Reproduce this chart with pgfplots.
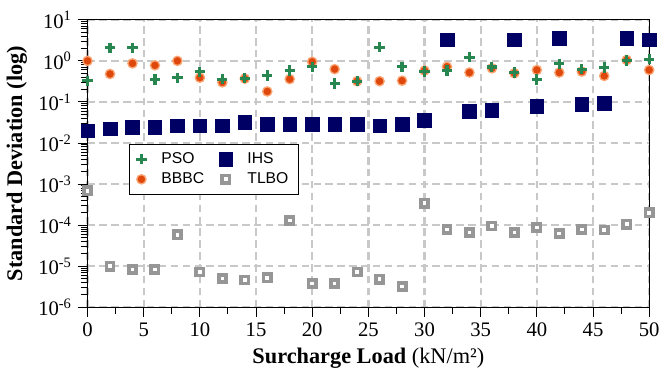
\documentclass[border=0pt]{standalone}
\usepackage{fontspec}
\setmainfont{Liberation Serif}
\setsansfont{Liberation Sans}
\usepackage{pgfplots}
\pgfplotsset{compat=1.18}
\definecolor{psogreen}{RGB}{40,135,80}
\definecolor{bbbcorange}{RGB}{222,72,12}
\definecolor{bbbchalo}{RGB}{250,165,115}
\definecolor{ihsblue}{RGB}{0,0,100}
\definecolor{tlbogray}{RGB}{150,150,150}
\definecolor{gridgray}{RGB}{200,200,200}
\pgfplotsset{
  psostyle/.style={only marks, mark=+, mark size=3.1pt, mark options={draw=psogreen, line width=1.9pt}},
  bbbcstyle/.style={only marks, mark=*, mark size=2.8pt, mark options={draw=bbbchalo, fill=bbbcorange, line width=0.8pt}},
  ihsstyle/.style={only marks, mark=square*, mark size=4.1pt, mark options={draw=ihsblue, fill=ihsblue, line width=0.3pt}},
  tlbostyle/.style={only marks, mark=square*, mark size=2.2pt, mark options={draw=tlbogray, fill=white, line width=2.2pt}},
}
\begin{document}
\begin{tikzpicture}
\begin{semilogyaxis}[
  scale only axis, width=340pt, height=174pt,
  xmin=0, xmax=50, ymin=1e-6, ymax=10,
  xtick={0,5,...,50}, minor x tick num=1,
  ytick={1e-6,1e-5,1e-4,1e-3,1e-2,1e-1,1,10},
  yticklabels={10\textsuperscript{-6},10\textsuperscript{-5},10\textsuperscript{-4},10\textsuperscript{-3},10\textsuperscript{-2},10\textsuperscript{-1},10\textsuperscript{0},10\textsuperscript{1}},
  tick pos=left, tick align=outside,
  major tick length=6pt, minor tick length=4pt,
  every tick/.style={black, line width=0.6pt},
  grid=major,
  major grid style={gridgray, line width=1.4pt, dash pattern=on 4.5pt off 2.7pt},
  axis line style={black, line width=0.8pt},
  tick label style={font=\fontsize{12.5}{14}\selectfont},
  /pgf/number format/assume math mode=true,
  xlabel={\textbf{Surcharge Load} (kN/m²)},
  ylabel={\textbf{Standard Deviation (log)}},
  label style={font=\fontsize{13.5}{16}\selectfont},
  clip=false,
  legend columns=2,
  legend cell align=left,
  legend style={at={(0.074,0.569)}, anchor=north west, draw=black, line width=0.7pt, fill=white,
    font=\sffamily\fontsize{9.5}{11.5}\selectfont,
    inner xsep=4pt, inner ysep=3pt,
    /tikz/every odd column/.append style={column sep=7pt},
    /tikz/every even column/.append style={column sep=7pt}},
]
\addlegendimage{psostyle}\addlegendentry{PSO}
\addlegendimage{ihsstyle}\addlegendentry{IHS}
\addlegendimage{bbbcstyle}\addlegendentry{BBBC}
\addlegendimage{tlbostyle}\addlegendentry{TLBO}

% BBBC
\addplot[bbbcstyle, forget plot] coordinates {
(0,1.0) (2,0.48) (4,0.87) (6,0.78) (8,1.0) (10,0.39) (12,0.30) (14,0.37) (16,0.18) (18,0.36)
(20,0.95) (22,0.63) (24,0.32) (26,0.32) (28,0.33) (30,0.58) (32,0.72) (34,0.52) (36,0.66) (38,0.50)
(40,0.60) (42,0.52) (44,0.55) (46,0.43) (48,1.05) (50,0.60)};
% PSO
\addplot[psostyle, forget plot] coordinates {
(0,0.33) (2,2.09) (4,2.09) (6,0.35) (8,0.39) (10,0.54) (12,0.36) (14,0.38) (16,0.44) (18,0.58)
(20,0.72) (22,0.28) (24,0.32) (26,2.14) (28,0.72) (30,0.55) (32,0.58) (34,1.23) (36,0.71) (38,0.52)
(40,0.35) (42,0.85) (44,0.63) (46,0.69) (48,1.02) (50,1.10)};
% IHS
\addplot[ihsstyle, forget plot] coordinates {
(0,0.020) (2,0.022) (4,0.024) (6,0.024) (8,0.026) (10,0.026) (12,0.026) (14,0.032) (16,0.029) (18,0.029)
(20,0.029) (22,0.029) (24,0.029) (26,0.026) (28,0.029) (30,0.036) (32,3.24) (34,0.060) (36,0.063) (38,3.24)
(40,0.079) (42,3.55) (44,0.087) (46,0.093) (48,3.55) (50,3.24)};
% TLBO
\addplot[tlbostyle, forget plot] coordinates {
(0,6.9e-4) (2,1.0e-5) (4,8.3e-6) (6,8.3e-6) (8,5.8e-5) (10,7.2e-6) (12,5.0e-6) (14,4.6e-6) (16,5.2e-6) (18,1.29e-4)
(20,3.8e-6) (22,3.8e-6) (24,7.2e-6) (26,4.8e-6) (28,3.2e-6) (30,3.4e-4) (32,7.9e-5) (34,6.6e-5) (36,9.5e-5) (38,6.6e-5)
(40,8.7e-5) (42,6.3e-5) (44,7.9e-5) (46,7.6e-5) (48,1.05e-4) (50,2.0e-4)};
\end{semilogyaxis}
\path ([xshift=-53pt,yshift=-38.4pt]current axis.south west) rectangle ([xshift=6pt,yshift=12pt]current axis.north east);
\end{tikzpicture}
\end{document}
